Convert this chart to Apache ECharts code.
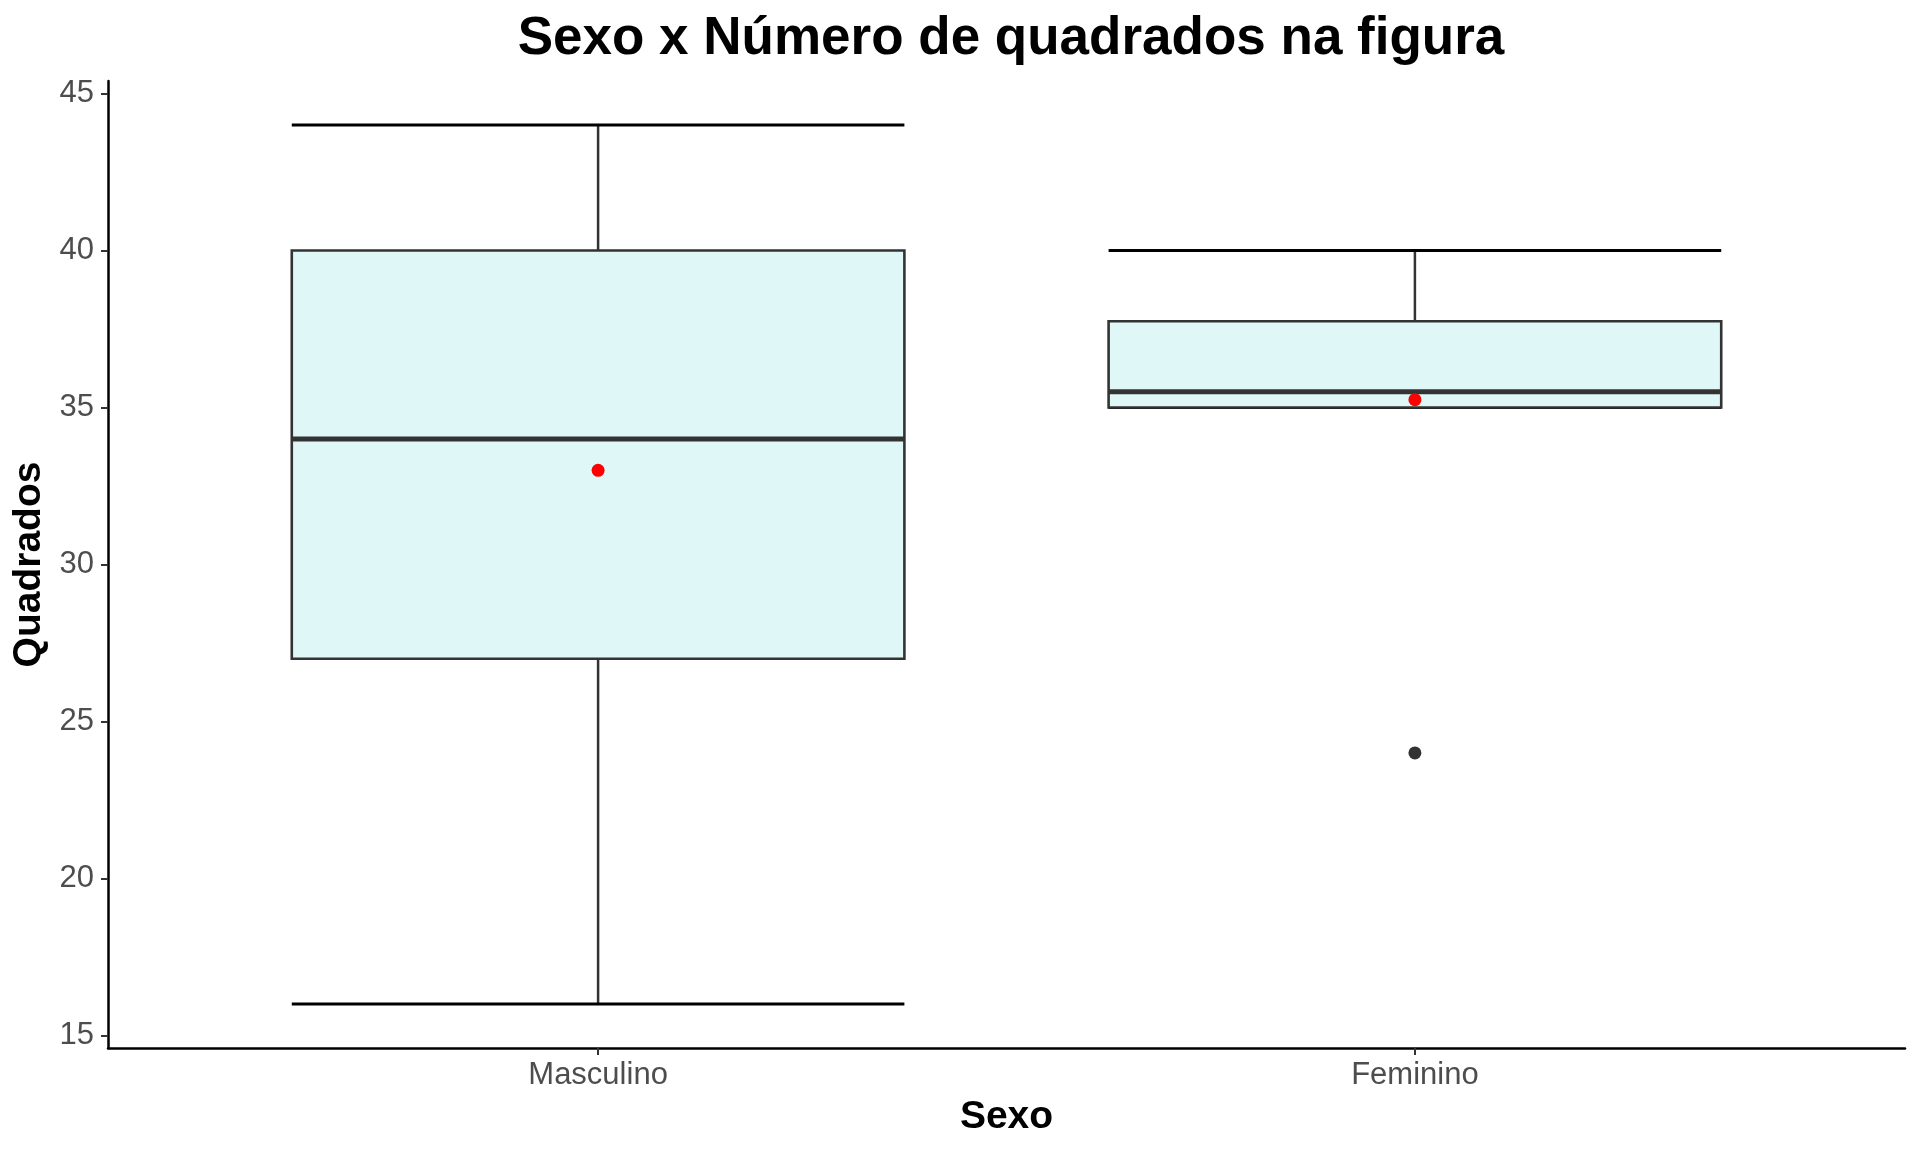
<!DOCTYPE html>
<html>
<head>
<meta charset="utf-8">
<script src="https://cdn.jsdelivr.net/npm/echarts@6/dist/echarts.min.js"></script>
<style>
html,body{margin:0;padding:0;background:#fff;}
#chart{width:1920px;height:1152px;}
</style>
</head>
<body>
<div id="chart"></div>
<script>
const categories = ['Masculino', 'Feminino'];
const lowerWhisker = [16, 35];
const q1 = [27, 35];
const median = [34, 35.5];
const q3 = [40, 37.75];
const upperWhisker = [44, 40];
const means = [33, 35.25];
const outlierCat = [2];
const outlierVal = [24];
const yTicks = [15, 20, 25, 30, 35, 40, 45];
const xTicks = [1, 2];

const FONT = '"Liberation Sans", Arial, Helvetica, sans-serif';
const boxData = categories.map((c, i) => [i + 1, lowerWhisker[i], q1[i], median[i], q3[i], upperWhisker[i]]);
const meanData = categories.map((c, i) => [i + 1, means[i]]);
const outData = outlierCat.map((c, i) => [c, outlierVal[i]]);

function renderBox(params, api) {
  const x = api.value(0);
  const lo = api.coord([x, api.value(1)]);
  const b1 = api.coord([x, api.value(2)]);
  const md = api.coord([x, api.value(3)]);
  const b3 = api.coord([x, api.value(4)]);
  const hi = api.coord([x, api.value(5)]);
  const w = api.size([0.75, 0])[0];
  const cx = lo[0];
  const half = w / 2;
  return {
    type: 'group',
    children: [
      { type: 'line', shape: { x1: cx, y1: lo[1], x2: cx, y2: hi[1] }, style: { stroke: '#333333', lineWidth: 2.5 } },
      { type: 'line', shape: { x1: cx - half, y1: lo[1], x2: cx + half, y2: lo[1] }, style: { stroke: '#000000', lineWidth: 3 } },
      { type: 'line', shape: { x1: cx - half, y1: hi[1], x2: cx + half, y2: hi[1] }, style: { stroke: '#000000', lineWidth: 3 } },
      { type: 'rect', shape: { x: cx - half, y: b3[1], width: w, height: b1[1] - b3[1] }, style: { fill: '#E0F7F8', stroke: '#333333', lineWidth: 2.6 } },
      { type: 'line', shape: { x1: cx - half, y1: md[1], x2: cx + half, y2: md[1] }, style: { stroke: '#333333', lineWidth: 5 } }
    ]
  };
}

const chart = echarts.init(document.getElementById('chart'));
chart.setOption({
  backgroundColor: '#ffffff',
  animation: false,
  title: {
    text: 'Sexo x Número de quadrados na figura',
    left: 1006,
    top: 8,
    textAlign: 'center',
    textStyle: { fontFamily: FONT, fontWeight: 'bold', fontSize: 53, color: '#000' }
  },
  grid: { left: 108, right: 15, top: 81, bottom: 104, containLabel: false },
  xAxis: {
    type: 'value',
    min: 0.4,
    max: 2.6,
    name: 'Sexo',
    nameLocation: 'middle',
    nameGap: 50,
    nameTextStyle: { fontFamily: FONT, fontWeight: 'bold', fontSize: 39, color: '#000' },
    axisLine: { show: true, lineStyle: { color: '#000', width: 2.5 } },
    axisTick: { show: true, customValues: xTicks, length: 7, lineStyle: { color: '#333', width: 2 } },
    axisLabel: { customValues: xTicks, formatter: v => categories[Math.round(v) - 1] || '', margin: 12, fontFamily: FONT, fontSize: 31, color: '#4D4D4D' },
    splitLine: { show: false }
  },
  yAxis: {
    type: 'value',
    min: 14.6,
    max: 45.4,
    name: 'Quadrados',
    nameLocation: 'middle',
    nameGap: 40,
    nameTextStyle: { fontFamily: FONT, fontWeight: 'bold', fontSize: 39, color: '#000' },
    axisLine: { show: true, lineStyle: { color: '#000', width: 2.5 } },
    axisTick: { show: true, customValues: yTicks, length: 7, lineStyle: { color: '#333', width: 2 } },
    axisLabel: { customValues: yTicks, margin: 14, fontFamily: FONT, fontSize: 31, color: '#4D4D4D' },
    splitLine: { show: false }
  },
  series: [
    {
      type: 'custom',
      renderItem: renderBox,
      data: boxData,
      encode: { x: 0, y: [1, 2, 3, 4, 5] },
      z: 2
    },
    {
      type: 'scatter',
      data: outData,
      symbolSize: 13,
      itemStyle: { color: '#333333', opacity: 1 },
      z: 3
    },
    {
      type: 'scatter',
      data: meanData,
      symbolSize: 13,
      itemStyle: { color: '#FF0000', opacity: 1 },
      z: 4
    }
  ]
});
</script>
</body>
</html>
